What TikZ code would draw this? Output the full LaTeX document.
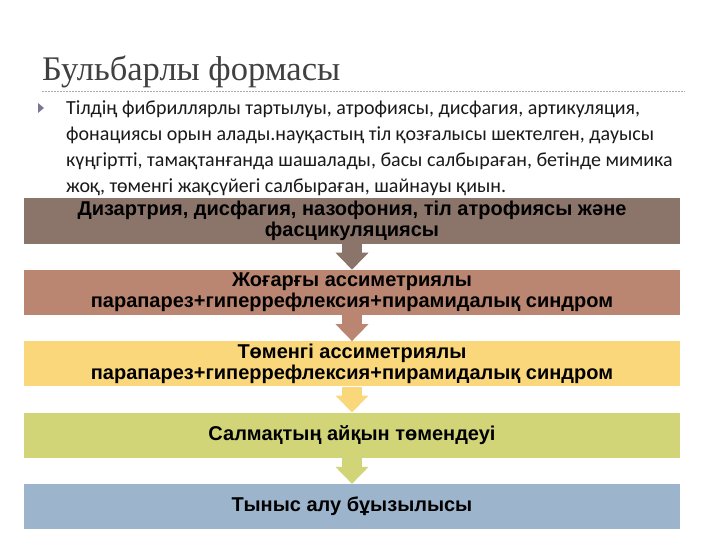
\documentclass[tikz,border=0pt]{standalone}
\usepackage{fontspec}
\setmainfont{Carlito}
\newfontfamily\boxfont{Liberation Sans}
\newfontfamily\titlefont{Liberation Serif}
\usepackage{xcolor}
\usetikzlibrary{positioning,arrows.meta}
\definecolor{stepone}{RGB}{139,117,107}
\definecolor{steptwo}{RGB}{186,133,113}
\definecolor{stepthree}{RGB}{250,215,122}
\definecolor{stepfour}{RGB}{209,213,119}
\definecolor{stepfive}{RGB}{156,181,205}
\definecolor{rulegray}{RGB}{170,170,170}
\definecolor{bulletcol}{RGB}{120,120,150}
\tikzset{
  stagebox/.style={minimum width=656pt,minimum height=45pt,inner sep=0pt,align=center,
    font=\boxfont\bfseries\fontsize{20}{21}\selectfont},
  flowarrow/.style={line width=20pt,-{Triangle[length=17pt,width=32pt]}}
}

\begin{document}
\begin{tikzpicture}[x=1pt,y=-1pt,node distance=26pt]
    \useasboundingbox (0,0) rectangle (720,540);
    \node [anchor=base west,inner sep=0pt,text=black!75,font=\titlefont\fontsize{34.5}{36}\selectfont] (title) at (42,81) {Бульбарлы формасы};
    \coordinate (ruleL) at (42,91);
    \coordinate (ruleR) at (685,91);
    \draw [rulegray,dash pattern=on 1.5pt off 1.5pt] (ruleL) -- (ruleR);
    \fill [bulletcol] (38,103) -- (44,108) -- (38,113) -- cycle;
    \node [anchor=north west,inner sep=0pt,align=left,text=black!90,font=\fontsize{20}{26}\selectfont] (body) at (66,101)
      {Тілдің фибриллярлы тартылуы, атрофиясы, дисфагия, артикуляция,\\
       фонациясы орын алады.науқастың тіл қозғалысы шектелген, дауысы\\
       күңгіртті, тамақтанғанда шашалады, басы салбыраған, бетінде мимика\\
       жоқ, төменгі жақсүйегі салбыраған, шайнауы қиын.};

    \node [stagebox,fill=stepone] (s1) at (352,221) {Дизартрия, дисфагия, назофония, тіл атрофиясы және\\фасцикуляциясы};
    \node [stagebox,fill=steptwo,below=of s1] (s2) {Жоғарғы ассиметриялы\\парапарез+гиперрефлексия+пирамидалық синдром};
    \node [stagebox,fill=stepthree,below=of s2] (s3) {Төменгі ассиметриялы\\парапарез+гиперрефлексия+пирамидалық синдром};
    \node [stagebox,fill=stepfour,below=of s3] (s4) {Салмақтың айқын төмендеуі};
    \node [stagebox,fill=stepfive,below=of s4] (s5) {Тыныс алу бұызылысы};

    \path [draw,flowarrow,stepone] (s1) -- (s2);
    \path [draw,flowarrow,steptwo] (s2) -- (s3);
    \path [draw,flowarrow,stepthree] (s3) -- (s4);
    \path [draw,flowarrow,stepfour] (s4) -- (s5);
\end{tikzpicture}
\end{document}
